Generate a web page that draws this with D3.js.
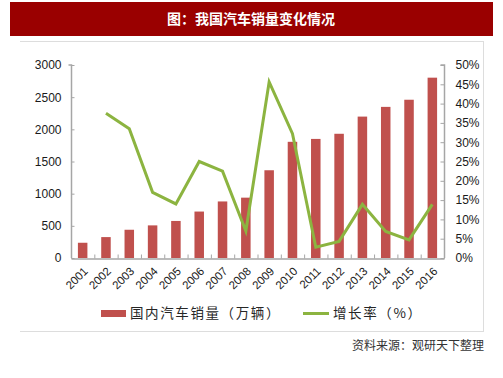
<!DOCTYPE html>
<html><head><meta charset="utf-8">
<script src="https://cdn.jsdelivr.net/npm/d3@7/dist/d3.min.js"></script>
<style>body{margin:0;background:#fff}svg{display:block}</style>
</head><body><svg id="c" width="503" height="378"></svg>
<script>
const years = ["2001","2002","2003","2004","2005","2006","2007","2008","2009","2010","2011","2012","2013","2014","2015","2016"];
const sales = [237,325,439,507,576,722,879,938,1364,1806,1851,1931,2198,2349,2460,2803];
const growth = [null,37.5,33.5,17.0,14.0,25.0,22.5,7.0,45.6,32.2,2.8,4.3,13.9,6.9,4.7,13.9];
const leftTicks = [0,500,1000,1500,2000,2500,3000];
const rightTicks = [0,5,10,15,20,25,30,35,40,45,50];
const title = "图：我国汽车销量变化情况";
const legendBar = "国内汽车销量（万辆）";
const legendLine = "增长率（%）";
const source = "资料来源：观研天下整理";

const svg = d3.select("#c");
const font = "'Liberation Sans', Arial, sans-serif";
const cjk = "'Noto Sans CJK SC', sans-serif";

// title bar
svg.append("rect").attr("x",10).attr("y",2).attr("width",483).attr("height",34).attr("fill","#9a0000");
svg.append("text").attr("x",251).attr("y",24).attr("text-anchor","middle").attr("fill","#fff")
  .attr("font-family",cjk).attr("font-weight","bold").attr("font-size",14).text(title);

// frame
const fr = svg.append("g").attr("stroke","#dddddd").attr("fill","none");
fr.append("line").attr("x1",20).attr("x2",484).attr("y1",41.5).attr("y2",41.5);
fr.append("line").attr("x1",483.5).attr("x2",483.5).attr("y1",41).attr("y2",332);
fr.append("line").attr("x1",20).attr("x2",484).attr("y1",331.5).attr("y2",331.5);

const L=71, R=444, T=65, B=258;
const x = d3.scaleBand().domain(years).range([L,R]);
const yL = d3.scaleLinear().domain([0,3000]).range([B,T]);
const yR = d3.scaleLinear().domain([0,50]).range([B,T]);

// bars
svg.append("g").selectAll("rect").data(years).join("rect")
  .attr("x",d=>x(d)+x.bandwidth()/2-4.75).attr("width",9.5)
  .attr("y",(d,i)=>yL(sales[i])).attr("height",(d,i)=>B-yL(sales[i]))
  .attr("fill","#c0504d");

// axes
const axisColor="#a6a6a6";
const gl = svg.append("g").attr("transform",`translate(${L+0.5},0)`)
  .call(d3.axisLeft(yL).tickValues(leftTicks).tickSize(-3).tickPadding(10).tickFormat(d3.format("d")));
const gr = svg.append("g").attr("transform",`translate(${R+0.5},0)`)
  .call(d3.axisRight(yR).tickValues(rightTicks).tickSize(-4).tickPadding(11).tickFormat(d=>d+"%"));
const gb = svg.append("g").attr("transform",`translate(0,${B+0.5})`)
  .call(d3.axisBottom(x).tickSize(0).tickFormat(""));
// bottom tick marks between categories
const edges = years.map(d=>x(d)).concat([R]);
gb.selectAll("line.sep").data(edges).join("line").attr("class","sep")
  .attr("x1",d=>d+0.5).attr("x2",d=>d+0.5).attr("y1",0).attr("y2",-4).attr("stroke",axisColor);
[gl,gr,gb].forEach(g=>{
  g.selectAll(".domain").attr("stroke",axisColor).attr("stroke-width",1.5);
  g.selectAll(".tick line").attr("stroke",axisColor);
  g.selectAll("text").attr("font-family",font).attr("font-size",12).attr("fill","#1a1a1a");
});
gl.select(".domain").attr("d",`M-3,${T}H0V${B}`);
gr.select(".domain").attr("d",`M-4,${T}H0V${B}`);

// x labels rotated
svg.append("g").selectAll("text").data(years).join("text")
  .attr("transform",d=>`translate(${x(d)+x.bandwidth()/2+3},${B+11}) rotate(-45)`)
  .attr("text-anchor","end").attr("dy","0.35em")
  .attr("font-family",font).attr("font-size",11.5).attr("fill","#1a1a1a").text(d=>d);

// line
const line = d3.line().defined(d=>d[1]!=null)
  .x(d=>x(d[0])+x.bandwidth()/2).y(d=>yR(d[1]));
svg.append("path").datum(years.map((d,i)=>[d,growth[i]]))
  .attr("d",line).attr("fill","none").attr("stroke","#8cb440").attr("stroke-width",3)
  .attr("stroke-linejoin","miter");

// legend
svg.append("rect").attr("x",101).attr("y",310).attr("width",25).attr("height",7).attr("fill","#c0504d");
svg.append("text").attr("x",130).attr("y",318).attr("font-family",cjk).attr("font-size",13.5)
  .attr("fill","#262626").attr("letter-spacing",1.6).text(legendBar);
svg.append("line").attr("x1",303).attr("x2",329).attr("y1",313.5).attr("y2",313.5)
  .attr("stroke","#8cb440").attr("stroke-width",3);
svg.append("text").attr("x",333).attr("y",318).attr("font-family",cjk).attr("font-size",13.5)
  .attr("fill","#262626").attr("letter-spacing",1.6).text(legendLine);

// source
svg.append("text").attr("x",484).attr("y",350).attr("text-anchor","end").attr("font-family",cjk)
  .attr("font-size",12).attr("fill","#333").text(source);
</script></body></html>
